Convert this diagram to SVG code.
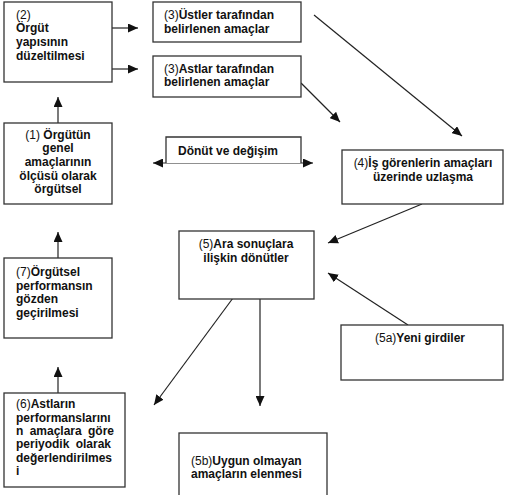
<svg xmlns="http://www.w3.org/2000/svg" width="506" height="495" viewBox="0 0 506 495">
<style>
.box{fill:#fff;stroke:#333;stroke-width:1.3}
.con{fill:none;stroke:#222;stroke-width:1.2}
text{font-family:"Liberation Sans",Arial,Helvetica,sans-serif;font-size:12px;fill:#111}
.b{font-weight:bold}
.n{font-weight:normal}
.c{text-anchor:middle}
</style>
<defs>
<marker id="ah" markerUnits="userSpaceOnUse" markerWidth="11" markerHeight="9" refX="10" refY="4.5" orient="auto-start-reverse">
<path d="M0,0 L10,4.5 L0,9 z" fill="#111"/>
</marker>
</defs>
<g id="connectors">
<line class="con" x1="112" y1="28" x2="138" y2="28" marker-end="url(#ah)"/>
<line class="con" x1="112" y1="69" x2="138" y2="69" marker-end="url(#ah)"/>
<line class="con" x1="58" y1="123" x2="58" y2="97" marker-end="url(#ah)"/>
<line class="con" x1="314" y1="15" x2="462" y2="136" marker-end="url(#ah)"/>
<line class="con" x1="301" y1="83" x2="340" y2="122" marker-end="url(#ah)"/>
<line class="con" x1="153" y1="163" x2="313" y2="163" marker-start="url(#ah)" marker-end="url(#ah)"/>
<line class="con" x1="422" y1="204" x2="328" y2="243" marker-end="url(#ah)"/>
<line class="con" x1="408" y1="325" x2="328" y2="273" marker-end="url(#ah)"/>
<line class="con" x1="233" y1="298" x2="154" y2="405" marker-end="url(#ah)"/>
<line class="con" x1="260" y1="298" x2="260" y2="406" marker-end="url(#ah)"/>
<line class="con" x1="58" y1="258" x2="58" y2="232" marker-end="url(#ah)"/>
<line class="con" x1="58" y1="393" x2="58" y2="367" marker-end="url(#ah)"/>
</g>
<g id="n2">
<rect class="box" x="4" y="2" width="108" height="80"/>
<text x="16" y="19"><tspan class="n">(2)</tspan></text>
<text class="b" x="16" y="32">Örgüt</text>
<text class="b" x="16" y="46">yapısının</text>
<text class="b" x="16" y="60">düzeltilmesi</text>
</g>
<g id="n3u">
<rect class="box" x="153" y="2" width="148" height="40"/>
<text x="164" y="19"><tspan class="n">(3)</tspan><tspan class="b">Üstler tarafından</tspan></text>
<text class="b" x="164" y="33">belirlenen amaçlar</text>
</g>
<g id="n3a">
<rect class="box" x="153" y="56" width="148" height="41"/>
<text x="164" y="73"><tspan class="n">(3)</tspan><tspan class="b">Astlar tarafından</tspan></text>
<text class="b" x="164" y="86">belirlenen  amaçlar</text>
</g>
<g id="n1">
<rect class="box" x="4" y="123" width="108" height="81"/>
<text class="c" x="58" y="139"><tspan class="n">(1) </tspan><tspan class="b">Örgütün</tspan></text>
<text class="c b" x="58" y="152">genel</text>
<text class="c b" x="58" y="166">amaçlarının</text>
<text class="c b" x="58" y="180">ölçüsü olarak</text>
<text class="c b" x="58" y="193">örgütsel</text>
</g>
<g id="ndonut">
<path class="box" d="M166,163 V137 H301 V163" />
<text class="b" x="178" y="155">Dönüt ve değişim</text>
</g>
<g id="n4">
<rect class="box" x="342" y="150" width="161" height="54"/>
<text class="c" x="423" y="167"><tspan class="n">(4)</tspan><tspan class="b">İş görenlerin amaçları</tspan></text>
<text class="c b" x="423" y="181">üzerinde uzlaşma</text>
</g>
<g id="n5">
<rect class="box" x="179" y="231" width="135" height="68"/>
<text class="c" x="246" y="248"><tspan class="n">(5)</tspan><tspan class="b">Ara sonuçlara</tspan></text>
<text class="c b" x="246" y="262">ilişkin dönütler</text>
</g>
<g id="n7">
<rect class="box" x="4" y="258" width="108" height="80"/>
<text x="16" y="276"><tspan class="n">(7)</tspan><tspan class="b">Örgütsel</tspan></text>
<text class="b" x="16" y="290">performansın</text>
<text class="b" x="16" y="303">gözden</text>
<text class="b" x="16" y="317">geçirilmesi</text>
</g>
<g id="n5a">
<rect class="box" x="341" y="325" width="162" height="55"/>
<text class="c" x="420" y="342"><tspan class="n">(5a)</tspan><tspan class="b">Yeni girdiler</tspan></text>
</g>
<g id="n6">
<rect class="box" x="4" y="393" width="121" height="94"/>
<text x="16" y="408"><tspan class="n">(6)</tspan><tspan class="b">Astların</tspan></text>
<text class="b" x="16" y="422">performanslarını</text>
<text class="b" x="16" y="435" word-spacing="3">n amaçlara göre</text>
<text class="b" x="16" y="448" word-spacing="3">periyodik olarak</text>
<text class="b" x="16" y="462">değerlendirilmes</text>
<text class="b" x="16" y="475">i</text>
</g>
<g id="n5b">
<rect class="box" x="179" y="433" width="148" height="70"/>
<text x="191" y="465"><tspan class="n">(5b)</tspan><tspan class="b">Uygun olmayan</tspan></text>
<text class="b" x="191" y="478">amaçların elenmesi</text>
</g>
</svg>
